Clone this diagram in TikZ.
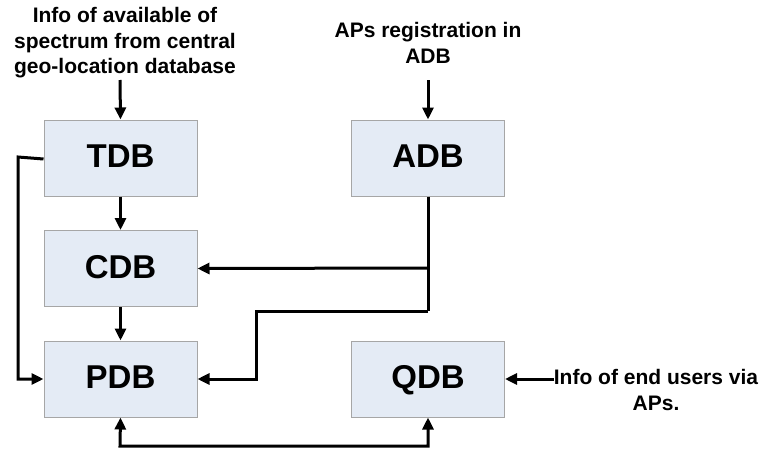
\documentclass[tikz,border=0pt]{standalone}
\usepackage{fontspec}
\setmainfont{Liberation Sans}
\usetikzlibrary{arrows.meta}
\definecolor{boxfill}{HTML}{E4EBF5}
\definecolor{boxline}{HTML}{A6A6A6}
\begin{document}
\begin{tikzpicture}[x=1pt,y=-1pt,
  dbbox/.style={draw=boxline,line width=1pt,fill=boxfill,minimum width=153pt,minimum height=76pt,inner sep=0pt,text height=23.6pt,text depth=4pt,font=\fontsize{33}{33}\selectfont\bfseries},
  lbl/.style={align=center,font=\fontsize{21}{25.5}\selectfont\bfseries,inner sep=0pt},
  conn/.style={line width=3pt,-{Triangle[length=12pt,width=11pt]}},
  plain/.style={line width=3pt}]
\useasboundingbox (0,0) rectangle (766,450);
\node[dbbox] (tdb) at (120.5,158) {TDB};
\node[dbbox] (cdb) at (120.5,268.5) {CDB};
\node[dbbox] (pdb) at (120.5,379) {PDB};
\node[dbbox] (adb) at (428,158) {ADB};
\node[dbbox] (qdb) at (428,379) {QDB};
\node[lbl] (l1) at (125,43) {Info of available of\\spectrum from central\\geo-location database};
\node[lbl] (l2) at (428,43) {APs registration in\\ADB};
\node[lbl] (l3) at (656,390) {Info of end users via\\APs.};
\coordinate (a1) at (120,80);
\coordinate (a2) at (428,80);
\coordinate (a3) at (554,379);
\draw[conn] (a1) -- (tdb.north);
\draw[conn] (a2) -- (adb.north);
\draw[conn] (a3) -- (qdb.east);
\draw[conn] (tdb.south) -- (cdb.north);
\draw[conn] (cdb.south) -- (pdb.north);
\draw[conn] ([yshift=-1pt]tdb.west) -- (18,157) -- (18,379) -- (pdb.west);
\draw[plain] (adb.south) -- (428,311);
\draw[conn] (428,268) -- (cdb.east);
\draw[conn] (428,311) -- (256,311) -- (256,379) -- (pdb.east);
\draw[conn,{Triangle[length=12pt,width=11pt]}-{Triangle[length=12pt,width=11pt]}] (pdb.south) -- (120,446) -- (428,446) -- (qdb.south);
\end{tikzpicture}
\end{document}
